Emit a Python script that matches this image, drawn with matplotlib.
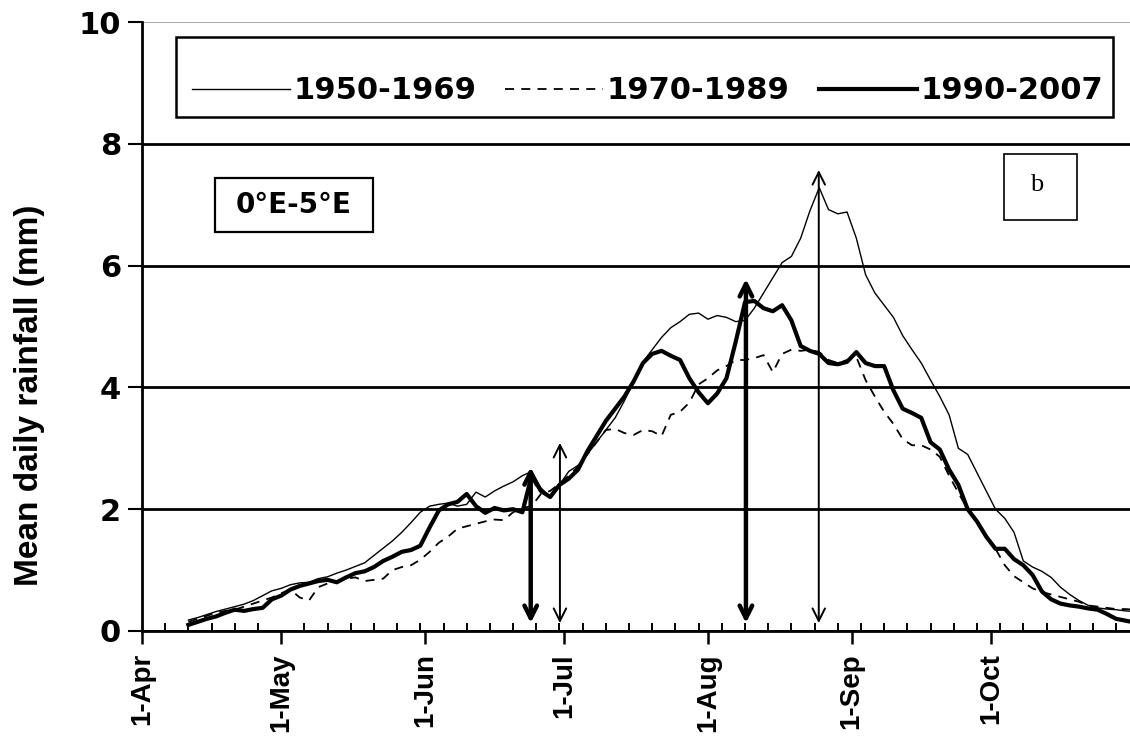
import numpy as np
import matplotlib
matplotlib.use('Agg')
import matplotlib.pyplot as plt
from matplotlib.patches import Rectangle

# days counted from 1-Apr (day 0), one value every 2 days
days = np.arange(10, 215, 2)

rain_1950_1969 = [0.18, 0.22, 0.27, 0.32, 0.36, 0.40, 0.44, 0.50, 0.58, 0.66,
                  0.70, 0.76, 0.79, 0.80, 0.86, 0.89, 0.95, 1.00, 1.06, 1.12,
                  1.24, 1.36, 1.48, 1.62, 1.78, 1.95, 2.05, 2.08, 2.10, 2.05,
                  2.08, 2.28, 2.20, 2.30, 2.38, 2.45, 2.55, 2.62, 2.35, 2.20,
                  2.40, 2.62, 2.72, 2.90, 3.10, 3.30, 3.50, 3.78, 4.10, 4.42,
                  4.62, 4.82, 4.98, 5.08, 5.20, 5.22, 5.12, 5.18, 5.15, 5.08,
                  5.10, 5.30, 5.55, 5.80, 6.05, 6.15, 6.45, 6.90, 7.28, 6.92,
                  6.85, 6.88, 6.45, 5.85, 5.55, 5.35, 5.15, 4.85, 4.62, 4.40,
                  4.12, 3.85, 3.55, 3.00, 2.90, 2.60, 2.30, 2.00, 1.85, 1.62,
                  1.15, 1.05, 0.98, 0.88, 0.72, 0.60, 0.50, 0.42, 0.38, 0.36,
                  0.35, 0.33, 0.32]

rain_1970_1989 = [0.15, 0.20, 0.25, 0.30, 0.33, 0.35, 0.40, 0.45, 0.50, 0.55,
                  0.62, 0.68, 0.55, 0.50, 0.72, 0.78, 0.82, 0.86, 0.88, 0.82,
                  0.84, 0.86, 1.00, 1.05, 1.08, 1.17, 1.30, 1.45, 1.55, 1.68,
                  1.72, 1.76, 1.80, 1.83, 1.82, 1.95, 2.02, 2.05, 2.25, 2.30,
                  2.42, 2.55, 2.70, 2.90, 3.10, 3.30, 3.32, 3.25, 3.22, 3.30,
                  3.28, 3.20, 3.55, 3.60, 3.75, 4.05, 4.15, 4.28, 4.35, 4.45,
                  4.45, 4.48, 4.53, 4.25, 4.55, 4.62, 4.60, 4.62, 4.58, 4.45,
                  4.40, 4.45, 4.50, 4.12, 3.85, 3.60, 3.40, 3.15, 3.05, 3.05,
                  2.98, 2.86, 2.55, 2.27, 2.00, 1.78, 1.55, 1.35, 1.08, 0.90,
                  0.80, 0.70, 0.64, 0.60, 0.56, 0.52, 0.48, 0.42, 0.40, 0.38,
                  0.36, 0.36, 0.35]

rain_1990_2007 = [0.10, 0.15, 0.20, 0.24, 0.30, 0.35, 0.33, 0.36, 0.38, 0.52,
                  0.58, 0.68, 0.74, 0.78, 0.82, 0.84, 0.80, 0.88, 0.95, 0.98,
                  1.05, 1.15, 1.22, 1.30, 1.33, 1.40, 1.70, 1.98, 2.08, 2.12,
                  2.25, 2.05, 1.94, 2.02, 1.98, 2.00, 1.95, 2.55, 2.30, 2.20,
                  2.40, 2.50, 2.65, 2.95, 3.20, 3.45, 3.65, 3.85, 4.10, 4.40,
                  4.55, 4.60, 4.52, 4.45, 4.15, 3.92, 3.74, 3.90, 4.15, 4.75,
                  5.40, 5.42, 5.30, 5.25, 5.35, 5.10, 4.68, 4.60, 4.55, 4.40,
                  4.38, 4.42, 4.58, 4.40, 4.35, 4.35, 3.95, 3.65, 3.58, 3.50,
                  3.10, 2.98, 2.65, 2.40, 2.00, 1.80, 1.55, 1.35, 1.35, 1.18,
                  1.08, 0.92, 0.65, 0.52, 0.45, 0.42, 0.40, 0.37, 0.35, 0.28,
                  0.20, 0.17, 0.14]

month_days = [0, 30, 61, 91, 122, 153, 183]
month_labels = ['1-Apr', '1-May', '1-Jun', '1-Jul', '1-Aug', '1-Sep', '1-Oct']

# double arrows: day, top value, thick or not
arrow_days = [83.8, 90.1, 130.2, 145.9]
arrow_tops = [2.69, 3.09, 5.78, 7.57]
arrow_thick = [True, False, True, False]
arrow_bottom = 0.13

fig = plt.figure(figsize=(11.3, 7.54), dpi=100)
ax = fig.add_axes([142 / 1130, 1 - 631 / 754, 988 / 1130, 609 / 754])

ax.plot(days, rain_1950_1969, color='black', lw=1.0, label='1950-1969')
ax.plot(days, rain_1970_1989, color='black', lw=1.3, dashes=(5, 4), label='1970-1989')
ax.plot(days, rain_1990_2007, color='black', lw=3.0, label='1990-2007')

for d, top, thick in zip(arrow_days, arrow_tops, arrow_thick):
    lw = 3.2 if thick else 1.4
    ax.annotate('', xy=(d, top), xytext=(d, arrow_bottom),
                arrowprops=dict(arrowstyle='<->,head_length=0.9,head_width=0.45',
                                color='black', lw=lw, shrinkA=0, shrinkB=0))

ax.set_xlim(0, 213)
ax.set_ylim(0, 10)

ax.set_yticks([0, 2, 4, 6, 8, 10])
ax.grid(axis='y', color='black', lw=2.0)
ax.get_ygridlines()[-1].set_color('0.6')
ax.get_ygridlines()[-1].set_linewidth(1.2)
ax.set_axisbelow(True)

ax.set_xticks(month_days)
ax.set_xticklabels(month_labels, rotation=90, fontsize=20, fontweight='bold',
                   family='Liberation Sans')
ax.set_xticks(np.arange(0, 214, 5), minor=True)
ax.tick_params(axis='x', which='major', direction='out', length=9, width=1.8, pad=7)
ax.tick_params(axis='x', which='minor', direction='in', length=6, width=1.4)
ax.tick_params(axis='y', direction='out', length=10, width=1.5, pad=5)
for lab in ax.get_yticklabels():
    lab.set_fontsize(22)
    lab.set_fontweight('bold')
    lab.set_family('DejaVu Sans')

for side in ['right', 'top']:
    ax.spines[side].set_visible(False)
ax.spines['left'].set_linewidth(2.0)
ax.spines['bottom'].set_linewidth(2.0)

fig.text(30 / 1130, 1 - 395 / 754, 'Mean daily rainfall (mm)', rotation=90,
         ha='center', va='center', fontsize=24, fontweight='bold',
         family='Liberation Sans')

# legend without its own frame, box drawn separately
leg = ax.legend(loc='center left', bbox_to_anchor=(0.0506, 0.887), ncol=3,
                borderaxespad=0, borderpad=0, frameon=False,
                handlelength=3.2, handletextpad=0.12, columnspacing=0.95,
                prop=dict(family='DejaVu Sans', weight='bold', size=22))
ax.add_patch(Rectangle((0.0344, 0.844), 0.9484, 0.131, transform=ax.transAxes,
                       fill=False, edgecolor='black', lw=1.8))

# region label box
ax.add_patch(Rectangle((0.0739, 0.655), 0.160, 0.0887, transform=ax.transAxes,
                       fill=False, edgecolor='black', lw=1.6))
ax.text(0.0739 + 0.080, 0.655 + 0.044, '0°E-5°E', transform=ax.transAxes,
        ha='center', va='center', fontsize=20, fontweight='bold', family='DejaVu Sans')

# panel letter box
ax.add_patch(Rectangle((0.8725, 0.6749), 0.0739, 0.1084, transform=ax.transAxes,
                       fill=False, edgecolor='black', lw=1.2))
ax.text(0.8725 + 0.033, 0.6749 + 0.058, 'b', transform=ax.transAxes,
        ha='center', va='center', fontsize=19, family='Liberation Serif')

fig.savefig('out.png', dpi=100)
